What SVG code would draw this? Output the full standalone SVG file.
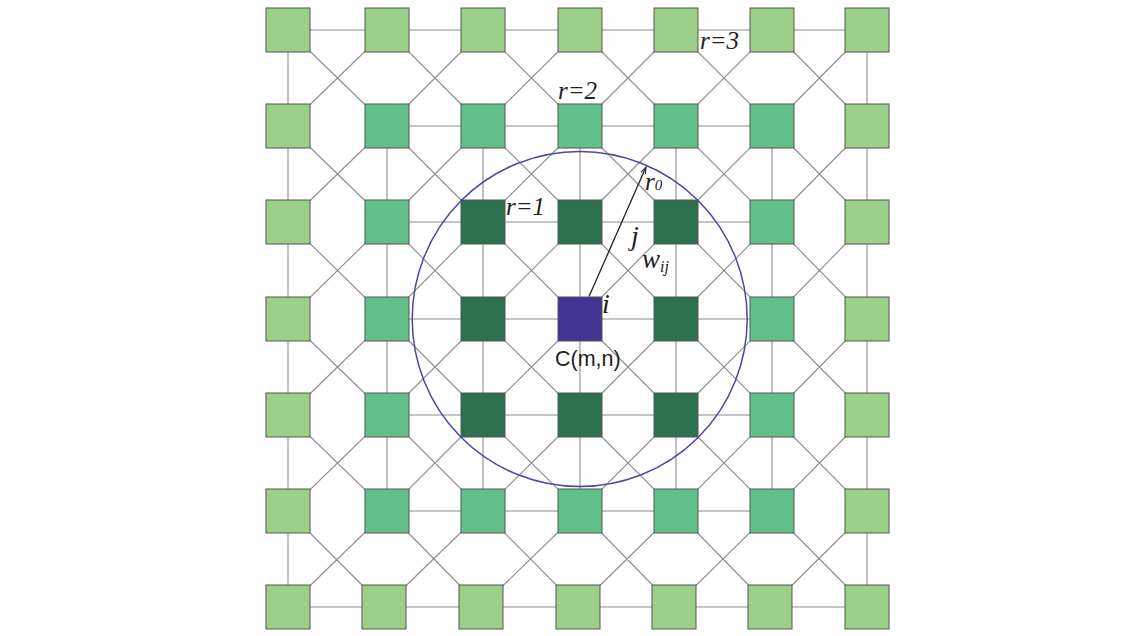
<svg xmlns="http://www.w3.org/2000/svg" width="1148" height="636" viewBox="0 0 1148 636">
<defs>
<style>
.n rect{stroke:#555555;stroke-width:1}
.r3 rect{fill:#9ccf87}
.r2 rect{fill:#62c08b}
.r1 rect{fill:#2e7151}
.c rect{fill:#433594}
.grid{fill:none;stroke:#8c8c8c;stroke-width:1.1}
.lbl{font-family:"Liberation Serif",serif;font-style:italic;fill:#222}
.sans{font-family:"Liberation Sans",Arial,sans-serif;fill:#222}
</style>
<marker id="ah" markerWidth="8" markerHeight="8" refX="7" refY="4" orient="auto" markerUnits="userSpaceOnUse">
<path d="M0,1.5 L7,4 L0,6.5" fill="none" stroke="#222" stroke-width="1"/>
</marker>
</defs>
<rect width="1148" height="636" fill="#ffffff"/>
<g id="connectors">
<path class="grid" d="M288 30H867 M288 607H867 M387 126H772 M387 222H772 M387 319H772 M387 415H772 M387 511H772 M288 30V607 M867 30V607 M387 126V511 M483 126V511 M580 126V511 M676 126V511 M772 126V511"/>
<path class="grid" d="
M288 30L387 126 M387 30L288 126 M387 30L483 126 M483 30L387 126 M483 30L580 126 M580 30L483 126 M580 30L676 126 M676 30L580 126 M676 30L772 126 M772 30L676 126 M772 30L867 126 M867 30L772 126
M288 126L387 222 M387 126L288 222 M387 126L483 222 M483 126L387 222 M483 126L580 222 M580 126L483 222 M580 126L676 222 M676 126L580 222 M676 126L772 222 M772 126L676 222 M772 126L867 222 M867 126L772 222
M288 222L387 319 M387 222L288 319 M387 222L483 319 M483 222L387 319 M483 222L580 319 M580 222L483 319 M580 222L676 319 M676 222L580 319 M676 222L772 319 M772 222L676 319 M772 222L867 319 M867 222L772 319
M288 319L387 415 M387 319L288 415 M387 319L483 415 M483 319L387 415 M483 319L580 415 M580 319L483 415 M580 319L676 415 M676 319L580 415 M676 319L772 415 M772 319L676 415 M772 319L867 415 M867 319L772 415
M288 415L387 511 M387 415L288 511 M387 415L483 511 M483 415L387 511 M483 415L580 511 M580 415L483 511 M580 415L676 511 M676 415L580 511 M676 415L772 511 M772 415L676 511 M772 415L867 511 M867 415L772 511
M288 511L384 607 M387 511L288 607 M387 511L481 607 M483 511L384 607 M483 511L578 607 M580 511L481 607 M580 511L674 607 M676 511L578 607 M676 511L770 607 M772 511L674 607 M772 511L867 607 M867 511L770 607"/>
</g>
<g id="nodes">
<g id="n00" class="n r3"><rect x="266" y="8" width="44" height="44"/></g>
<g id="n01" class="n r3"><rect x="365" y="8" width="44" height="44"/></g>
<g id="n02" class="n r3"><rect x="461" y="8" width="44" height="44"/></g>
<g id="n03" class="n r3"><rect x="558" y="8" width="44" height="44"/></g>
<g id="n04" class="n r3"><rect x="654" y="8" width="44" height="44"/></g>
<g id="n05" class="n r3"><rect x="750" y="8" width="44" height="44"/></g>
<g id="n06" class="n r3"><rect x="845" y="8" width="44" height="44"/></g>

<g id="n10" class="n r3"><rect x="266" y="104" width="44" height="44"/></g>
<g id="n11" class="n r2"><rect x="365" y="104" width="44" height="44"/></g>
<g id="n12" class="n r2"><rect x="461" y="104" width="44" height="44"/></g>
<g id="n13" class="n r2"><rect x="558" y="104" width="44" height="44"/></g>
<g id="n14" class="n r2"><rect x="654" y="104" width="44" height="44"/></g>
<g id="n15" class="n r2"><rect x="750" y="104" width="44" height="44"/></g>
<g id="n16" class="n r3"><rect x="845" y="104" width="44" height="44"/></g>

<g id="n20" class="n r3"><rect x="266" y="200" width="44" height="44"/></g>
<g id="n21" class="n r2"><rect x="365" y="200" width="44" height="44"/></g>
<g id="n22" class="n r1"><rect x="461" y="200" width="44" height="44"/></g>
<g id="n23" class="n r1"><rect x="558" y="200" width="44" height="44"/></g>
<g id="n24" class="n r1"><rect x="654" y="200" width="44" height="44"/></g>
<g id="n25" class="n r2"><rect x="750" y="200" width="44" height="44"/></g>
<g id="n26" class="n r3"><rect x="845" y="200" width="44" height="44"/></g>

<g id="n30" class="n r3"><rect x="266" y="297" width="44" height="44"/></g>
<g id="n31" class="n r2"><rect x="365" y="297" width="44" height="44"/></g>
<g id="n32" class="n r1"><rect x="461" y="297" width="44" height="44"/></g>
<g id="n33" class="n c"><rect x="558" y="297" width="44" height="44"/></g>
<g id="n34" class="n r1"><rect x="654" y="297" width="44" height="44"/></g>
<g id="n35" class="n r2"><rect x="750" y="297" width="44" height="44"/></g>
<g id="n36" class="n r3"><rect x="845" y="297" width="44" height="44"/></g>

<g id="n40" class="n r3"><rect x="266" y="393" width="44" height="44"/></g>
<g id="n41" class="n r2"><rect x="365" y="393" width="44" height="44"/></g>
<g id="n42" class="n r1"><rect x="461" y="393" width="44" height="44"/></g>
<g id="n43" class="n r1"><rect x="558" y="393" width="44" height="44"/></g>
<g id="n44" class="n r1"><rect x="654" y="393" width="44" height="44"/></g>
<g id="n45" class="n r2"><rect x="750" y="393" width="44" height="44"/></g>
<g id="n46" class="n r3"><rect x="845" y="393" width="44" height="44"/></g>

<g id="n50" class="n r3"><rect x="266" y="489" width="44" height="44"/></g>
<g id="n51" class="n r2"><rect x="365" y="489" width="44" height="44"/></g>
<g id="n52" class="n r2"><rect x="461" y="489" width="44" height="44"/></g>
<g id="n53" class="n r2"><rect x="558" y="489" width="44" height="44"/></g>
<g id="n54" class="n r2"><rect x="654" y="489" width="44" height="44"/></g>
<g id="n55" class="n r2"><rect x="750" y="489" width="44" height="44"/></g>
<g id="n56" class="n r3"><rect x="845" y="489" width="44" height="44"/></g>

<g id="n60" class="n r3"><rect x="266" y="585" width="44" height="44"/></g>
<g id="n61" class="n r3"><rect x="362" y="585" width="44" height="44"/></g>
<g id="n62" class="n r3"><rect x="459" y="585" width="44" height="44"/></g>
<g id="n63" class="n r3"><rect x="556" y="585" width="44" height="44"/></g>
<g id="n64" class="n r3"><rect x="652" y="585" width="44" height="44"/></g>
<g id="n65" class="n r3"><rect x="748" y="585" width="44" height="44"/></g>
<g id="n66" class="n r3"><rect x="845" y="585" width="44" height="44"/></g>
</g>
<g id="radius">
<circle cx="579.7" cy="319" r="167.5" fill="none" stroke="#4a46a8" stroke-width="1.5"/>
<line x1="589" y1="296.5" x2="646" y2="167" stroke="#222" stroke-width="1.3" marker-end="url(#ah)"/>
</g>
<g id="labels">
<text class="lbl" x="700" y="49" font-size="25">r=3</text>
<text class="lbl" x="558" y="99" font-size="25">r=2</text>
<text class="lbl" x="506" y="215" font-size="25">r=1</text>
<text class="lbl" x="645" y="190" font-size="25">r<tspan font-size="15" dy="0">0</tspan></text>
<text class="lbl" x="631" y="245" font-size="28">j</text>
<text class="lbl" x="642" y="268" font-size="27">w<tspan font-size="16" dy="4">ij</tspan></text>
<text class="lbl" x="602" y="313" font-size="28">i</text>
<text class="sans" x="555" y="366" font-size="21.5">C(m,n)</text>
</g>
</svg>
